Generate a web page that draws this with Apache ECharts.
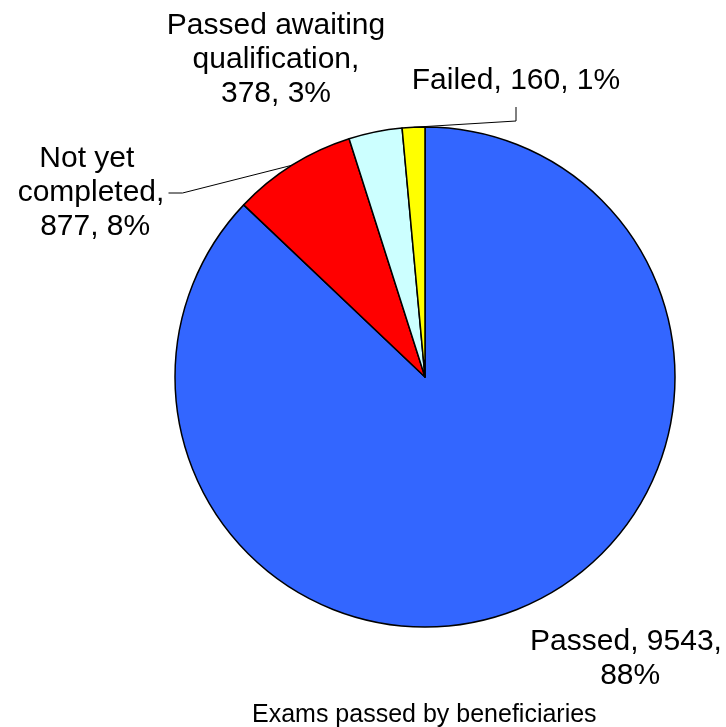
<!DOCTYPE html>
<html>
<head>
<meta charset="utf-8">
<script src="https://cdn.jsdelivr.net/npm/echarts@6/dist/echarts.min.js"></script>
<style>html,body{margin:0;padding:0;background:#fff}#c{width:726px;height:727px}</style>
</head>
<body>
<div id="c"></div>
<script>
const categories = ["Passed", "Not yet completed", "Passed awaiting qualification", "Failed"];
const values = [9543, 877, 378, 160];
const percentLabels = [88, 8, 3, 1];
const colors = ["#3366FF", "#FF0000", "#CCFFFF", "#FFFF00"];
const chartTitle = "Exams passed by beneficiaries";

// label placement (style only)
const labelStyle = [
  {x: 626, y: 659, width: 200, line: false, lineHeight: 34},
  {x: 91, y: 193, width: 155, line: true, lineHeight: 34},
  {x: 276, y: 60, width: 221, line: false, lineHeight: 34},
  {x: 516, y: 81, width: 560, line: true, lineHeight: 52}
];

const chart = echarts.init(document.getElementById('c'));
const font = "'Liberation Sans', Arial, sans-serif";
chart.setOption({
  animation: false,
  title: {
    text: chartTitle,
    left: 247,
    top: 698,
    textStyle: {fontFamily: font, fontSize: 25, fontWeight: 'normal', color: '#000'}
  },
  series: [{
    type: 'pie',
    center: [425, 377],
    radius: 250,
    startAngle: 90,
    clockwise: true,
    itemStyle: {borderColor: '#000', borderWidth: 1.5},
    emphasis: {disabled: true},
    data: categories.map((c, i) => ({
      name: c,
      value: values[i],
      itemStyle: {color: colors[i]},
      label: {width: labelStyle[i].width, overflow: 'break', lineHeight: labelStyle[i].lineHeight},
      labelLine: {show: labelStyle[i].line}
    })),
    label: {
      show: true,
      position: 'outside',
      fontFamily: font,
      fontSize: 30,
      color: '#000',
      align: 'center',
      formatter: p => `${p.name}, ${p.value}, ${percentLabels[p.dataIndex]}%`
    },
    labelLine: {
      lineStyle: {color: '#000', width: 1},
      length: 10,
      length2: 14
    },
    labelLayout: p => ({
      x: labelStyle[p.dataIndex].x,
      y: labelStyle[p.dataIndex].y,
      align: 'center',
      verticalAlign: 'middle'
    })
  }]
});
</script>
</body>
</html>
